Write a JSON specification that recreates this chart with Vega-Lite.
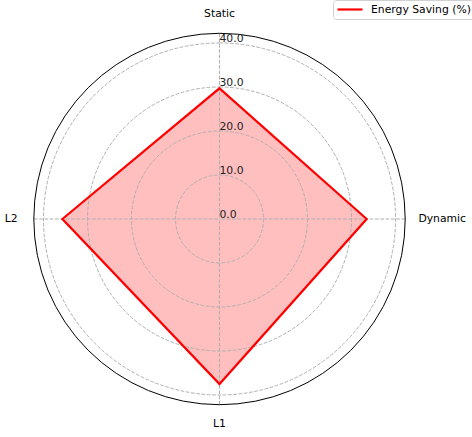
{
  "$schema": "https://vega.github.io/schema/vega-lite/v6.json",
  "width": 472,
  "height": 437,
  "autosize": "none",
  "padding": 0,
  "background": "white",
  "config": {"view": {"stroke": null}, "font": "DejaVu Sans"},
  "datasets": {
    "radar": [
      {"metric": "Static", "value": 29.7},
      {"metric": "Dynamic", "value": 33.45},
      {"metric": "L1", "value": 37.5},
      {"metric": "L2", "value": 35.7}
    ],
    "ticks": [{"t": 0}, {"t": 10}, {"t": 20}, {"t": 30}, {"t": 40}],
    "grid": [{"t": 10}, {"t": 20}, {"t": 30}, {"t": 40}],
    "outer": [{"t": 42.2}]
  },
  "layer": [
    {
      "data": {"name": "radar"},
      "transform": [
        {"window": [{"op": "row_number", "as": "idx"}]},
        {"calculate": "(datum.idx - 1) * PI / 2", "as": "ang"},
        {"calculate": "datum.value * sin(datum.ang)", "as": "px"},
        {"calculate": "datum.value * cos(datum.ang)", "as": "py"}
      ],
      "mark": {"type": "line", "interpolate": "linear-closed", "fill": "#ffbfbf", "strokeWidth": 0},
      "encoding": {
        "x": {"field": "px", "type": "quantitative", "scale": {"domain": [-49.886, 57.386], "nice": false, "zero": false}, "axis": null},
        "y": {"field": "py", "type": "quantitative", "scale": {"domain": [-49.545, 49.773], "nice": false, "zero": false}, "axis": null},
        "order": {"field": "idx", "type": "quantitative"}
      }
    },
    {
      "data": {"name": "grid"},
      "mark": {"type": "arc", "filled": false, "stroke": "#b0b0b0", "strokeWidth": 1, "strokeDash": [3.7, 1.6], "theta": 0, "theta2": 6.2832},
      "encoding": {
        "x": {"datum": 0, "type": "quantitative"},
        "y": {"datum": 0, "type": "quantitative"},
        "radius": {"field": "t", "type": "quantitative", "stack": null, "scale": {"type": "linear", "domain": [0, 42.2], "range": [0, 185.7], "zero": true}, "legend": null}
      }
    },
    {
      "data": {"name": "radar"},
      "transform": [
        {"window": [{"op": "row_number", "as": "idx"}]},
        {"calculate": "(datum.idx - 1) * PI / 2", "as": "ang"},
        {"calculate": "42.2 * sin(datum.ang)", "as": "sx"},
        {"calculate": "42.2 * cos(datum.ang)", "as": "sy"},
        {"calculate": "0", "as": "z"}
      ],
      "mark": {"type": "rule", "stroke": "#b0b0b0", "strokeWidth": 1, "strokeDash": [3.7, 1.6]},
      "encoding": {
        "x": {"field": "sx", "type": "quantitative"},
        "y": {"field": "sy", "type": "quantitative"},
        "x2": {"field": "z"},
        "y2": {"field": "z"}
      }
    },
    {
      "data": {"name": "outer"},
      "mark": {"type": "arc", "filled": false, "stroke": "black", "strokeWidth": 1, "theta": 0, "theta2": 6.2832},
      "encoding": {
        "x": {"datum": 0, "type": "quantitative"},
        "y": {"datum": 0, "type": "quantitative"},
        "radius": {"field": "t", "type": "quantitative", "stack": null}
      }
    },
    {
      "data": {"name": "radar"},
      "transform": [
        {"window": [{"op": "row_number", "as": "idx"}]},
        {"calculate": "(datum.idx - 1) * PI / 2", "as": "ang"},
        {"calculate": "datum.value * sin(datum.ang)", "as": "px"},
        {"calculate": "datum.value * cos(datum.ang)", "as": "py"}
      ],
      "mark": {"type": "line", "interpolate": "linear-closed", "strokeWidth": 2.2, "strokeJoin": "miter"},
      "encoding": {
        "x": {"field": "px", "type": "quantitative"},
        "y": {"field": "py", "type": "quantitative"},
        "order": {"field": "idx", "type": "quantitative"},
        "stroke": {
          "datum": "Energy Saving (%)",
          "type": "nominal",
          "scale": {"range": ["#ff0000"]},
          "legend": {
            "title": null,
            "orient": "none",
            "legendX": 333,
            "legendY": 0,
            "padding": 3,
            "clipHeight": 13,
            "strokeColor": "#d0d0d0",
            "fillColor": "white",
            "cornerRadius": 3,
            "symbolType": "stroke",
            "symbolSize": 625,
            "symbolStrokeWidth": 2.2,
            "labelFontSize": 10.8,
            "labelColor": "black",
            "labelFont": "DejaVu Sans",
            "labelOffset": 7
          }
        }
      }
    },
    {
      "data": {"name": "ticks"},
      "mark": {"type": "text", "align": "left", "baseline": "alphabetic", "dy": -1.5, "fontSize": 10.8, "color": "#222222"},
      "encoding": {
        "x": {"datum": 0, "type": "quantitative"},
        "y": {"field": "t", "type": "quantitative"},
        "text": {"field": "t", "type": "quantitative", "format": ".1f"}
      }
    },
    {
      "data": {"name": "radar"},
      "transform": [{"filter": "datum.metric == 'Static'"}],
      "mark": {"type": "text", "align": "center", "baseline": "alphabetic", "fontSize": 10.8, "color": "black"},
      "encoding": {
        "x": {"datum": 0, "type": "quantitative"},
        "y": {"datum": 46.0, "type": "quantitative"},
        "text": {"field": "metric"}
      }
    },
    {
      "data": {"name": "radar"},
      "transform": [{"filter": "datum.metric == 'Dynamic'"}],
      "mark": {"type": "text", "align": "left", "baseline": "middle", "fontSize": 10.8, "color": "black"},
      "encoding": {
        "x": {"datum": 45.2, "type": "quantitative"},
        "y": {"datum": 0, "type": "quantitative"},
        "text": {"field": "metric"}
      }
    },
    {
      "data": {"name": "radar"},
      "transform": [{"filter": "datum.metric == 'L1'"}],
      "mark": {"type": "text", "align": "center", "baseline": "top", "fontSize": 10.8, "color": "black"},
      "encoding": {
        "x": {"datum": 0, "type": "quantitative"},
        "y": {"datum": -45.2, "type": "quantitative"},
        "text": {"field": "metric"}
      }
    },
    {
      "data": {"name": "radar"},
      "transform": [{"filter": "datum.metric == 'L2'"}],
      "mark": {"type": "text", "align": "right", "baseline": "middle", "fontSize": 10.8, "color": "black"},
      "encoding": {
        "x": {"datum": -45.9, "type": "quantitative"},
        "y": {"datum": 0, "type": "quantitative"},
        "text": {"field": "metric"}
      }
    }
  ]
}
